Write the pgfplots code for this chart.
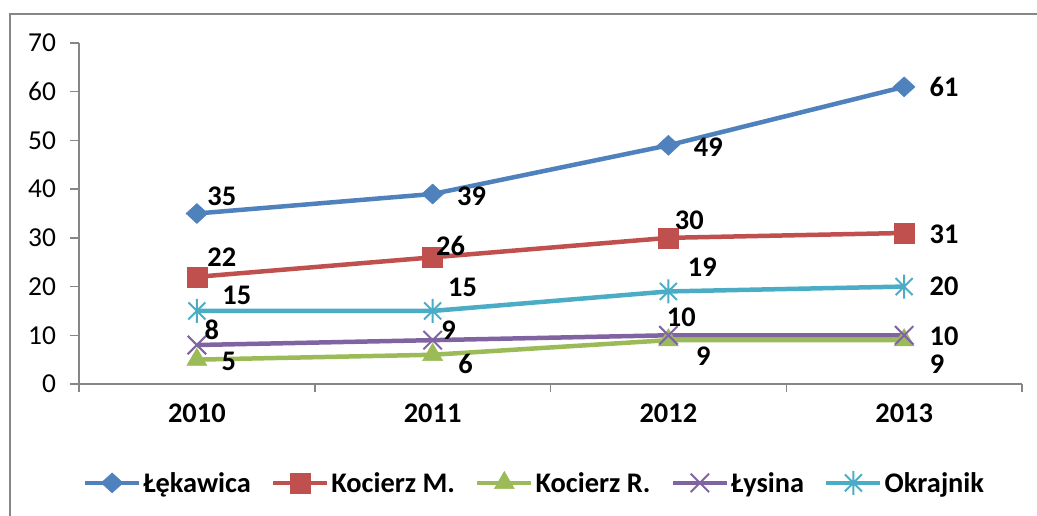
\documentclass[border=0pt]{standalone}
\usepackage{fontspec}
\setmainfont{Carlito}
\usepackage{pgfplots}
\pgfplotsset{compat=1.18}
\usepackage{pgfplotstable}

\definecolor{cBlue}{HTML}{4F81BD}
\definecolor{cRed}{HTML}{C0504D}
\definecolor{cGreen}{HTML}{9BBB59}
\definecolor{cPurple}{HTML}{8064A2}
\definecolor{cCyan}{HTML}{4BACC6}
\definecolor{axgray}{HTML}{868686}

\pgfdeclareplotmark{estar}{%
  \pgfpathmoveto{\pgfqpoint{-.7071\pgfplotmarksize}{-.7071\pgfplotmarksize}}%
  \pgfpathlineto{\pgfqpoint{.7071\pgfplotmarksize}{.7071\pgfplotmarksize}}%
  \pgfpathmoveto{\pgfqpoint{-.7071\pgfplotmarksize}{.7071\pgfplotmarksize}}%
  \pgfpathlineto{\pgfqpoint{.7071\pgfplotmarksize}{-.7071\pgfplotmarksize}}%
  \pgfpathmoveto{\pgfqpoint{0pt}{-\pgfplotmarksize}}%
  \pgfpathlineto{\pgfqpoint{0pt}{\pgfplotmarksize}}%
  \pgfusepathqstroke}

\pgfplotstableread{
x y dx dy
0 35 25 17
1 39 39 -2
2 49 40 -2
3 61 40 0
}\tLek
\pgfplotstableread{
x y dx dy
0 22 25 20
1 26 18 11
2 30 21 18
3 31 40 -1
}\tKocM
\pgfplotstableread{
x y dx dy
0 5 32 -2
1 6 33 -9
2 9 35 -16
3 9 33 -24
}\tKocR
\pgfplotstableread{
x y dx dy
0 8 15 15
1 9 16 10
2 10 13 18
3 10 40 -1
}\tLys
\pgfplotstableread{
x y dx dy
0 15 40 16
1 15 30 24
2 19 34 24
3 20 40 0
}\tOkr

\newcommand{\bigbold}{\fontsize{28.5}{30}\selectfont\bfseries}

\begin{document}
\begin{tikzpicture}[x=1bp,y=1bp]
\useasboundingbox (-79,-132) rectangle (958,384);
\begin{axis}[
  at={(0,0)}, anchor=south west,
  scale only axis, width=943bp, height=341bp,
  xmin=-0.5, xmax=3.5, ymin=0, ymax=70,
  axis x line*=bottom, axis y line*=left,
  axis line style={draw=axgray, line width=1.5bp, -},
  xtick={-0.5,0.5,1.5,2.5,3.5}, xticklabels={},
  extra x ticks={0,1,2,3},
  extra x tick labels={2010,2011,2012,2013},
  extra x tick style={major tick length=0pt, tick style={draw=none},
     xticklabel style={font=\bigbold, yshift=-14bp}},
  ytick={0,10,...,70},
  tick align=outside,
  major tick length=8.5bp,
  tick style={draw=axgray, line width=1.5bp},
  yticklabel style={font=\fontsize{27.5}{30}\selectfont, xshift=-9bp},
  /pgf/number format/assume math mode=true,
  clip=false,
  line width=4.5bp,
  point meta=explicit symbolic,
  visualization depends on={\thisrow{dx}\as\dx},
  visualization depends on={\thisrow{dy}\as\dy},
  nodes near coords,
  every node near coord/.append style={anchor=center, xshift=\dx bp, yshift=\dy bp,
     font=\bigbold, text=black, inner sep=0pt},
  legend style={at={(0.483,-0.29)}, anchor=center, draw=none, fill=none,
     legend columns=5, font=\bigbold, inner sep=0pt,
     /tikz/every even column/.append style={column sep=18bp},
     nodes={inner sep=2bp}},
  legend image code/.code={%
     \draw[mark repeat=2,mark phase=2,#1] plot coordinates {(0bp,0bp) (27bp,0bp) (54bp,0bp)};},
]
\addplot[color=cBlue, mark=diamond*, mark size=10bp,
  mark options={xscale=1.45, line width=0.5bp, solid}]
  table[x=x, y=y, meta=y] {\tLek};
\addlegendentry{Łękawica}
\addplot[color=cRed, mark=square*, mark size=10bp,
  mark options={line width=0.5bp, solid}]
  table[x=x, y=y, meta=y] {\tKocM};
\addlegendentry{Kocierz M.}
\addplot[color=cGreen, mark=triangle*, mark size=11.5bp,
  mark options={line width=0.5bp, solid}]
  table[x=x, y=y, meta=y] {\tKocR};
\addlegendentry{Kocierz R.}
\addplot[color=cPurple, mark=x, mark size=13bp,
  mark options={line width=2bp, solid}]
  table[x=x, y=y, meta=y] {\tLys};
\addlegendentry{Łysina}
\addplot[color=cCyan, mark=estar, mark size=12bp,
  mark options={line width=2bp, solid}]
  table[x=x, y=y, meta=y] {\tOkr};
\addlegendentry{Okrajnik}
\end{axis}
\draw[axgray, line width=2bp] (-69,-140) -- (-69,370) -- (965,370);
\end{tikzpicture}
\end{document}
